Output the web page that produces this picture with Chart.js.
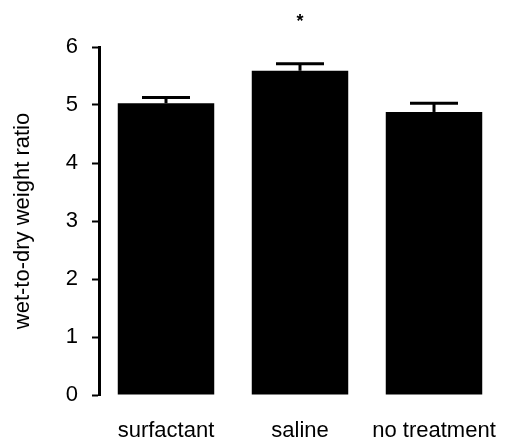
<!DOCTYPE html>
<html>
<head>
<meta charset="utf-8">
<script src="https://cdn.jsdelivr.net/npm/chart.js@4"></script>
<style>
html,body{margin:0;padding:0;background:#fff;}
#wrap{width:509px;height:443px;position:relative;}
</style>
</head>
<body>
<div id="wrap"><canvas id="c" width="509" height="443"></canvas></div>
<script>
const categories = ['surfactant', 'saline', 'no treatment'];
const means = [5.03, 5.59, 4.88];
const errors = [0.1, 0.12, 0.15];
const significance = ['', '*', ''];
const yTicks = [0, 1, 2, 3, 4, 5, 6];

const FONT = "'Liberation Sans', Arial, Helvetica, sans-serif";

const errorBarPlugin = {
  id: 'errorBars',
  afterDatasetsDraw(chart) {
    const ctx = chart.ctx;
    const meta = chart.getDatasetMeta(0);
    const y = chart.scales.y;
    ctx.save();
    ctx.strokeStyle = '#000';
    meta.data.forEach((bar, i) => {
      const x = bar.x;
      const top = y.getPixelForValue(means[i] + errors[i]);
      const base = y.getPixelForValue(means[i]);
      ctx.lineWidth = 3;
      ctx.beginPath();
      ctx.moveTo(x, base);
      ctx.lineTo(x, top);
      ctx.stroke();
      ctx.beginPath();
      ctx.moveTo(x - 24, top);
      ctx.lineTo(x + 24, top);
      ctx.stroke();
      if (significance[i]) {
        ctx.fillStyle = '#000';
        ctx.font = "bold 18px " + FONT;
        ctx.textAlign = 'center';
        ctx.textBaseline = 'middle';
        ctx.fillText(significance[i], x, 22);
      }
    });
    ctx.restore();
  }
};

new Chart(document.getElementById('c'), {
  type: 'bar',
  data: {
    labels: categories,
    datasets: [{
      data: means,
      backgroundColor: '#000',
      borderWidth: 0,
      barPercentage: 0.72,
      categoryPercentage: 1.0
    }]
  },
  options: {
    responsive: false,
    animation: false,
    devicePixelRatio: 1,
    layout: { padding: { top: 47, right: 8, left: 0, bottom: 0 } },
    plugins: { legend: { display: false }, tooltip: { enabled: false } },
    scales: {
      x: {
        grid: { display: false },
        border: { display: false },
        ticks: { color: '#000', font: { family: FONT, size: 22 }, padding: 15, maxRotation: 0 },
        afterFit(s) { s.height = 48; s.paddingLeft = 0; s.paddingRight = 0; }
      },
      y: {
        min: 0, max: 6,
        afterBuildTicks(s) { s.ticks = yTicks.map(v => ({ value: v })); },
        grid: { drawOnChartArea: false, drawTicks: true, tickLength: 7, tickWidth: 2, color: '#000' },
        border: { display: true, width: 3, color: '#000' },
        ticks: { color: '#000', font: { family: FONT, size: 22 }, padding: 14 },
        title: { display: true, text: 'wet-to-dry weight ratio', color: '#000', font: { family: FONT, size: 22 }, padding: { top: 10, bottom: 0 } },
        afterFit(s) { s.width = 99; }
      }
    }
  },
  plugins: [errorBarPlugin]
});
</script>
</body>
</html>
